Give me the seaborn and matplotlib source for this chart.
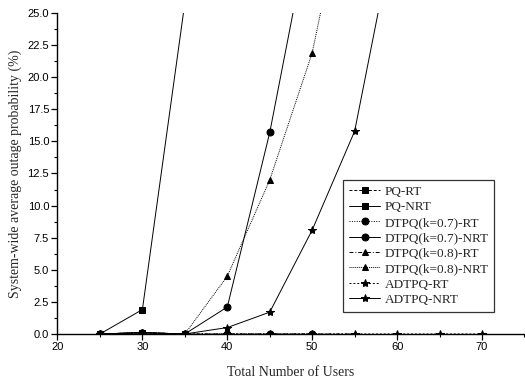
import matplotlib
matplotlib.use("Agg")
import matplotlib.pyplot as plt
import seaborn as sns
import pandas as pd
from matplotlib.ticker import MultipleLocator, FormatStrFormatter

# Number of users per simulated scenario
users_pq = [25, 30, 35]
users_full = [25, 30, 35, 40, 45, 50, 55, 60, 65, 70]

# Outage probability (%) per scheme
pq_rt = [0.0, 0.1, 0.0]
pq_nrt = [0.0, 1.9, 25.8]
dtpq07_rt = [0.0, 0.1, 0.0, 0.0, 0.0, 0.0]
dtpq07_nrt = [0.0, 0.1, 0.0, 2.1, 15.7, 32.7]
dtpq08_rt = [0.0, 0.1, 0.0, 0.0, 0.0, 0.0, 0.0]
dtpq08_nrt = [0.0, 0.1, 0.0, 4.5, 12.0, 21.9, 37.8]
adtpq_rt = [0.0, 0.1, 0.0, 0.0, 0.0, 0.0, 0.0, 0.0, 0.0, 0.0]
adtpq_nrt = [0.0, 0.1, 0.0, 0.5, 1.7, 8.1, 15.8, 32.5]

series = [
    ("PQ-RT", users_pq, pq_rt, "s", (0, (3, 2))),
    ("PQ-NRT", users_pq, pq_nrt, "s", "-"),
    ("DTPQ(k=0.7)-RT", users_full[:6], dtpq07_rt, "o", (0, (1, 1.5))),
    ("DTPQ(k=0.7)-NRT", users_full[:6], dtpq07_nrt, "o", "-"),
    ("DTPQ(k=0.8)-RT", users_full[:7], dtpq08_rt, "^", (0, (4, 2, 1, 2))),
    ("DTPQ(k=0.8)-NRT", users_full[:7], dtpq08_nrt, "^", (0, (1, 1))),
    ("ADTPQ-RT", users_full, adtpq_rt, "*", (0, (2, 2))),
    ("ADTPQ-NRT", users_full[:8], adtpq_nrt, "*", "-"),
]

sns.set_style("ticks")
plt.rcParams["font.family"] = ["Liberation Serif", "DejaVu Serif"]

fig = plt.figure(figsize=(5.25, 3.83), dpi=100)
ax = fig.add_axes([0.1095, 0.128, 0.8895, 0.838])

for name, xs, ys, mk, ls in series:
    df = pd.DataFrame({"users": xs, "outage": ys})
    sns.lineplot(data=df, x="users", y="outage", ax=ax, color="black",
                 marker=mk, markersize=6 if mk == "*" else 5,
                 markeredgecolor="black", linewidth=0.7, linestyle=ls,
                 label=name, zorder=3)

ax.set_xlim(20, 75)
ax.set_ylim(0, 25)
ax.xaxis.set_major_locator(MultipleLocator(10))
ax.xaxis.set_minor_locator(MultipleLocator(5))
ax.yaxis.set_major_locator(MultipleLocator(2.5))
ax.yaxis.set_minor_locator(MultipleLocator(1.25))
ax.yaxis.set_major_formatter(FormatStrFormatter("%.1f"))

for s in ("top", "right"):
    ax.spines[s].set_visible(False)
for s in ("left", "bottom"):
    ax.spines[s].set_linewidth(1.0)
    ax.spines[s].set_color("black")

ax.tick_params(axis="both", which="major", direction="out", length=4,
               width=0.9, colors="black", pad=2)
ax.tick_params(axis="both", which="minor", direction="out", length=2,
               width=0.8, colors="black")
for lab in ax.get_xticklabels() + ax.get_yticklabels():
    lab.set_fontfamily("Liberation Sans")
    lab.set_fontsize(8)

ax.set_xlabel("Total Number of Users", fontsize=10, labelpad=10)
ax.set_ylabel("System-wide average outage probability (%)", fontsize=10,
              labelpad=4)

leg = ax.legend(loc="upper left", bbox_to_anchor=(0.611, 0.48),
                borderaxespad=0, frameon=True, fancybox=False,
                fontsize=9.5, handlelength=2.4, handletextpad=0.3,
                labelspacing=0.24, borderpad=0.45)
leg.get_frame().set_edgecolor("black")
leg.get_frame().set_linewidth(0.9)

fig.savefig("out.png", dpi=100, facecolor="white")
